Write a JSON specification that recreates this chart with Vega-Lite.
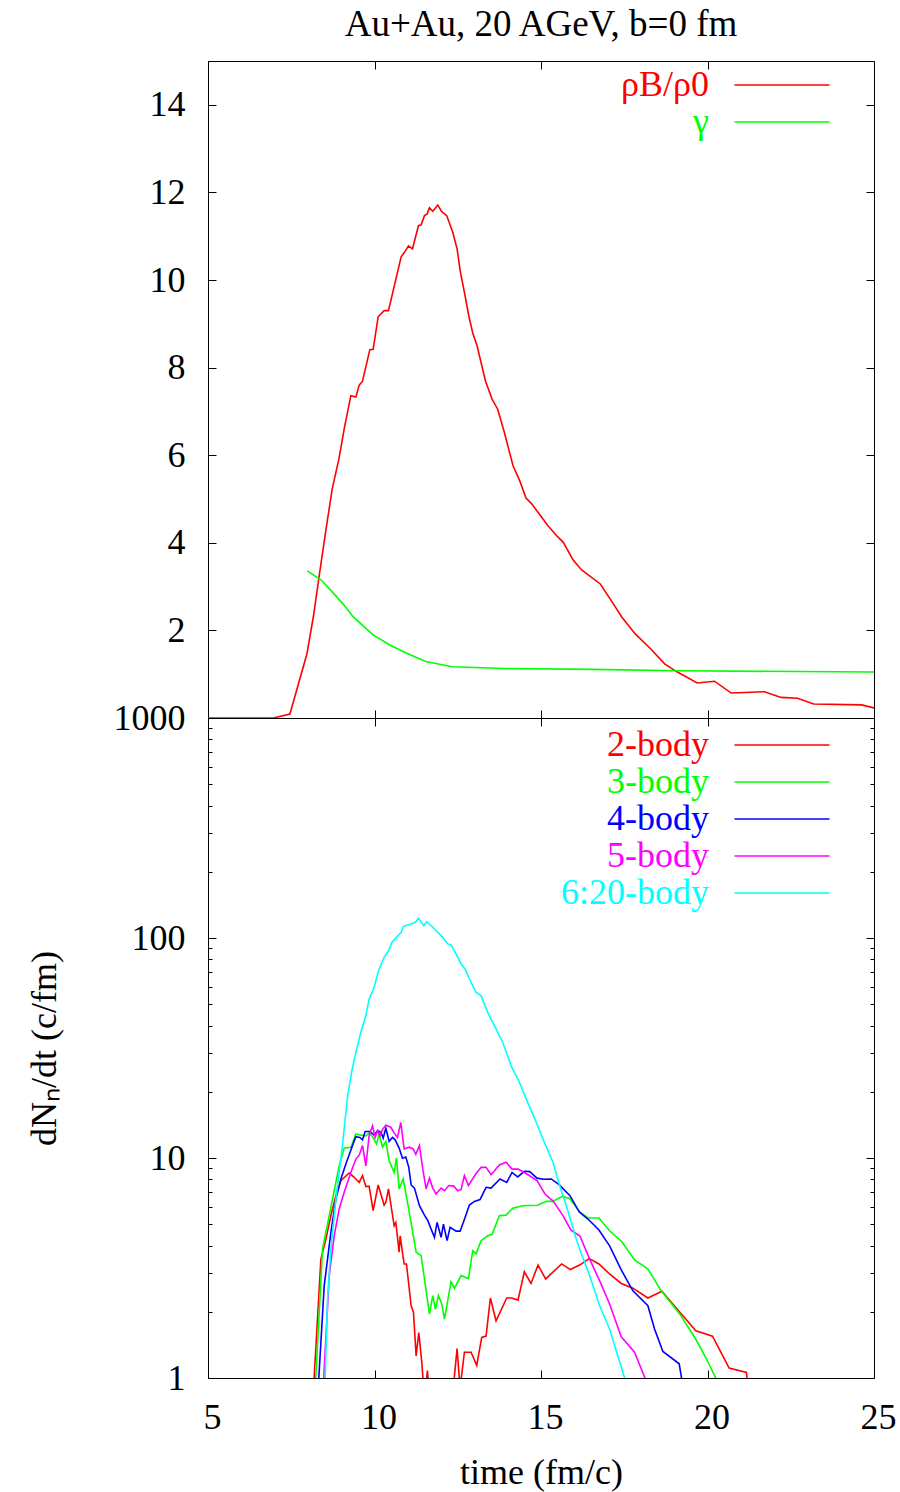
{
  "$schema": "https://vega.github.io/schema/vega-lite/v6.json",
  "padding": {"left": 25, "top": 5, "right": 10, "bottom": 5},
  "background": "#ffffff",
  "config": {
    "font": "Liberation Serif",
    "view": {"stroke": "#000000", "strokeWidth": 1},
    "axis": {
      "labelFont": "Liberation Serif", "labelFontSize": 36, "labelColor": "#000000",
      "titleFont": "Liberation Serif", "titleFontSize": 36, "titleFontWeight": "normal", "titleColor": "#000000",
      "domain": false, "grid": false, "ticks": true, "tickColor": "#000000", "tickWidth": 1, "tickSize": -8,
      "labelOverlap": false, "labelFlush": false, "labelPadding": 31
    },
    "legend": {
      "orient": "top-right", "offset": 6, "padding": 0,
      "symbolType": "M-9,0H1M4.67,0", "symbolSize": 361, "symbolStrokeWidth": 1.6,
      "labelFont": "Liberation Serif", "labelFontSize": 36, "labelAlign": "right", "labelOffset": -129,
      "labelLimit": 0, "rowPadding": 1
    }
  },
  "datasets": {
    "top": [
      {"t": 5.0, "v": 0, "s": "ρB/ρ0"}, {"t": 6.96, "v": 0, "s": "ρB/ρ0"}, {"t": 7.46, "v": 0.09, "s": "ρB/ρ0"},
      {"t": 7.97, "v": 1.46, "s": "ρB/ρ0"}, {"t": 8.17, "v": 2.34, "s": "ρB/ρ0"}, {"t": 8.34, "v": 3.25, "s": "ρB/ρ0"},
      {"t": 8.53, "v": 4.24, "s": "ρB/ρ0"}, {"t": 8.73, "v": 5.23, "s": "ρB/ρ0"}, {"t": 8.93, "v": 5.91, "s": "ρB/ρ0"},
      {"t": 9.10, "v": 6.64, "s": "ρB/ρ0"}, {"t": 9.29, "v": 7.36, "s": "ρB/ρ0"}, {"t": 9.44, "v": 7.33, "s": "ρB/ρ0"},
      {"t": 9.54, "v": 7.60, "s": "ρB/ρ0"}, {"t": 9.64, "v": 7.69, "s": "ρB/ρ0"}, {"t": 9.86, "v": 8.41, "s": "ρB/ρ0"},
      {"t": 9.96, "v": 8.42, "s": "ρB/ρ0"}, {"t": 10.11, "v": 9.16, "s": "ρB/ρ0"}, {"t": 10.29, "v": 9.30, "s": "ρB/ρ0"},
      {"t": 10.42, "v": 9.30, "s": "ρB/ρ0"}, {"t": 10.80, "v": 10.53, "s": "ρB/ρ0"}, {"t": 10.89, "v": 10.62, "s": "ρB/ρ0"},
      {"t": 11.02, "v": 10.78, "s": "ρB/ρ0"}, {"t": 11.14, "v": 10.71, "s": "ρB/ρ0"}, {"t": 11.32, "v": 11.24, "s": "ρB/ρ0"},
      {"t": 11.40, "v": 11.26, "s": "ρB/ρ0"}, {"t": 11.50, "v": 11.47, "s": "ρB/ρ0"}, {"t": 11.58, "v": 11.51, "s": "ρB/ρ0"},
      {"t": 11.65, "v": 11.65, "s": "ρB/ρ0"}, {"t": 11.75, "v": 11.57, "s": "ρB/ρ0"}, {"t": 11.90, "v": 11.71, "s": "ρB/ρ0"},
      {"t": 12.02, "v": 11.56, "s": "ρB/ρ0"}, {"t": 12.17, "v": 11.47, "s": "ρB/ρ0"}, {"t": 12.35, "v": 11.09, "s": "ρB/ρ0"},
      {"t": 12.48, "v": 10.71, "s": "ρB/ρ0"}, {"t": 12.58, "v": 10.18, "s": "ρB/ρ0"}, {"t": 12.72, "v": 9.64, "s": "ρB/ρ0"},
      {"t": 12.83, "v": 9.19, "s": "ρB/ρ0"}, {"t": 12.95, "v": 8.79, "s": "ρB/ρ0"}, {"t": 13.08, "v": 8.50, "s": "ρB/ρ0"},
      {"t": 13.33, "v": 7.70, "s": "ρB/ρ0"}, {"t": 13.53, "v": 7.28, "s": "ρB/ρ0"}, {"t": 13.70, "v": 7.05, "s": "ρB/ρ0"},
      {"t": 13.90, "v": 6.52, "s": "ρB/ρ0"}, {"t": 14.16, "v": 5.76, "s": "ρB/ρ0"}, {"t": 14.36, "v": 5.42, "s": "ρB/ρ0"},
      {"t": 14.55, "v": 5.02, "s": "ρB/ρ0"}, {"t": 14.72, "v": 4.89, "s": "ρB/ρ0"}, {"t": 15.21, "v": 4.39, "s": "ρB/ρ0"},
      {"t": 15.47, "v": 4.16, "s": "ρB/ρ0"}, {"t": 15.67, "v": 4.01, "s": "ρB/ρ0"}, {"t": 15.96, "v": 3.61, "s": "ρB/ρ0"},
      {"t": 16.22, "v": 3.38, "s": "ρB/ρ0"}, {"t": 16.78, "v": 3.06, "s": "ρB/ρ0"}, {"t": 17.11, "v": 2.68, "s": "ρB/ρ0"},
      {"t": 17.43, "v": 2.30, "s": "ρB/ρ0"}, {"t": 17.83, "v": 1.92, "s": "ρB/ρ0"}, {"t": 18.29, "v": 1.58, "s": "ρB/ρ0"},
      {"t": 18.72, "v": 1.23, "s": "ρB/ρ0"}, {"t": 19.07, "v": 1.06, "s": "ρB/ρ0"}, {"t": 19.69, "v": 0.80, "s": "ρB/ρ0"},
      {"t": 20.21, "v": 0.84, "s": "ρB/ρ0"}, {"t": 20.71, "v": 0.57, "s": "ρB/ρ0"}, {"t": 21.71, "v": 0.60, "s": "ρB/ρ0"},
      {"t": 22.21, "v": 0.47, "s": "ρB/ρ0"}, {"t": 22.70, "v": 0.45, "s": "ρB/ρ0"}, {"t": 23.19, "v": 0.32, "s": "ρB/ρ0"},
      {"t": 24.63, "v": 0.30, "s": "ρB/ρ0"}, {"t": 25.0, "v": 0.23, "s": "ρB/ρ0"},
      {"t": 7.98, "v": 3.36, "s": "γ"}, {"t": 8.40, "v": 3.15, "s": "γ"}, {"t": 8.73, "v": 2.88, "s": "γ"},
      {"t": 9.06, "v": 2.60, "s": "γ"}, {"t": 9.35, "v": 2.32, "s": "γ"}, {"t": 9.65, "v": 2.11, "s": "γ"},
      {"t": 9.97, "v": 1.89, "s": "γ"}, {"t": 10.50, "v": 1.65, "s": "γ"}, {"t": 11.02, "v": 1.46, "s": "γ"},
      {"t": 11.54, "v": 1.29, "s": "γ"}, {"t": 12.33, "v": 1.17, "s": "γ"}, {"t": 13.90, "v": 1.13, "s": "γ"},
      {"t": 16.52, "v": 1.11, "s": "γ"}, {"t": 19.14, "v": 1.08, "s": "γ"}, {"t": 22.67, "v": 1.06, "s": "γ"},
      {"t": 25.0, "v": 1.05, "s": "γ"}
    ],
    "bottom": [
      {"t": 8.17, "v": 0.9, "s": "2-body"}, {"t": 8.39, "v": 3.47, "s": "2-body"}, {"t": 8.54, "v": 4.28, "s": "2-body"},
      {"t": 8.69, "v": 5.47, "s": "2-body"}, {"t": 8.84, "v": 6.74, "s": "2-body"}, {"t": 8.99, "v": 7.88, "s": "2-body"},
      {"t": 9.24, "v": 8.55, "s": "2-body"}, {"t": 9.39, "v": 8.17, "s": "2-body"}, {"t": 9.54, "v": 7.75, "s": "2-body"},
      {"t": 9.64, "v": 8.32, "s": "2-body"}, {"t": 9.74, "v": 7.43, "s": "2-body"}, {"t": 9.84, "v": 7.43, "s": "2-body"},
      {"t": 9.96, "v": 5.76, "s": "2-body"}, {"t": 10.11, "v": 7.54, "s": "2-body"}, {"t": 10.29, "v": 6.11, "s": "2-body"},
      {"t": 10.34, "v": 6.29, "s": "2-body"}, {"t": 10.42, "v": 7.23, "s": "2-body"}, {"t": 10.59, "v": 4.92, "s": "2-body"},
      {"t": 10.64, "v": 5.09, "s": "2-body"}, {"t": 10.74, "v": 3.73, "s": "2-body"}, {"t": 10.77, "v": 4.43, "s": "2-body"},
      {"t": 10.89, "v": 3.30, "s": "2-body"}, {"t": 10.96, "v": 3.30, "s": "2-body"}, {"t": 11.10, "v": 2.13, "s": "2-body"},
      {"t": 11.17, "v": 1.99, "s": "2-body"}, {"t": 11.25, "v": 1.26, "s": "2-body"}, {"t": 11.33, "v": 1.61, "s": "2-body"},
      {"t": 11.42, "v": 1.18, "s": "2-body"}, {"t": 11.50, "v": 0.8, "s": "2-body"}, {"t": 11.59, "v": 1.08, "s": "2-body"},
      {"t": 11.65, "v": 0.8, "s": "2-body"}, {"t": 12.0, "v": 0.7, "s": "2-body"}, {"t": 12.35, "v": 0.85, "s": "2-body"},
      {"t": 12.48, "v": 1.36, "s": "2-body"}, {"t": 12.57, "v": 0.9, "s": "2-body"}, {"t": 12.70, "v": 1.31, "s": "2-body"},
      {"t": 12.90, "v": 1.31, "s": "2-body"}, {"t": 13.07, "v": 1.14, "s": "2-body"}, {"t": 13.22, "v": 1.53, "s": "2-body"},
      {"t": 13.35, "v": 1.55, "s": "2-body"}, {"t": 13.48, "v": 2.31, "s": "2-body"}, {"t": 13.65, "v": 1.82, "s": "2-body"},
      {"t": 13.97, "v": 2.31, "s": "2-body"}, {"t": 14.12, "v": 2.31, "s": "2-body"}, {"t": 14.31, "v": 2.26, "s": "2-body"},
      {"t": 14.50, "v": 3.04, "s": "2-body"}, {"t": 14.70, "v": 2.69, "s": "2-body"}, {"t": 14.91, "v": 3.26, "s": "2-body"},
      {"t": 15.14, "v": 2.82, "s": "2-body"}, {"t": 15.62, "v": 3.30, "s": "2-body"}, {"t": 15.88, "v": 3.11, "s": "2-body"},
      {"t": 16.16, "v": 3.26, "s": "2-body"}, {"t": 16.45, "v": 3.49, "s": "2-body"}, {"t": 16.74, "v": 3.30, "s": "2-body"},
      {"t": 17.06, "v": 2.97, "s": "2-body"}, {"t": 17.41, "v": 2.69, "s": "2-body"}, {"t": 17.76, "v": 2.56, "s": "2-body"},
      {"t": 18.21, "v": 2.31, "s": "2-body"}, {"t": 18.63, "v": 2.48, "s": "2-body"}, {"t": 19.17, "v": 1.99, "s": "2-body"},
      {"t": 19.65, "v": 1.64, "s": "2-body"}, {"t": 20.15, "v": 1.55, "s": "2-body"}, {"t": 20.65, "v": 1.11, "s": "2-body"},
      {"t": 21.17, "v": 1.06, "s": "2-body"}, {"t": 21.25, "v": 0.8, "s": "2-body"},

      {"t": 8.22, "v": 0.9, "s": "3-body"}, {"t": 8.44, "v": 3.86, "s": "3-body"}, {"t": 8.64, "v": 5.47, "s": "3-body"},
      {"t": 8.74, "v": 6.51, "s": "3-body"}, {"t": 8.94, "v": 9.23, "s": "3-body"}, {"t": 9.09, "v": 11.07, "s": "3-body"},
      {"t": 9.29, "v": 11.2, "s": "3-body"}, {"t": 9.44, "v": 12.85, "s": "3-body"}, {"t": 9.59, "v": 12.7, "s": "3-body"},
      {"t": 9.74, "v": 12.6, "s": "3-body"}, {"t": 9.84, "v": 13.0, "s": "3-body"}, {"t": 9.94, "v": 12.5, "s": "3-body"},
      {"t": 10.06, "v": 11.58, "s": "3-body"}, {"t": 10.14, "v": 12.85, "s": "3-body"}, {"t": 10.24, "v": 11.2, "s": "3-body"},
      {"t": 10.34, "v": 11.9, "s": "3-body"}, {"t": 10.44, "v": 9.72, "s": "3-body"}, {"t": 10.59, "v": 8.61, "s": "3-body"},
      {"t": 10.66, "v": 10.0, "s": "3-body"}, {"t": 10.74, "v": 7.23, "s": "3-body"}, {"t": 10.86, "v": 8.03, "s": "3-body"},
      {"t": 10.99, "v": 6.29, "s": "3-body"}, {"t": 11.13, "v": 4.76, "s": "3-body"}, {"t": 11.25, "v": 3.73, "s": "3-body"},
      {"t": 11.40, "v": 3.60, "s": "3-body"}, {"t": 11.50, "v": 2.82, "s": "3-body"}, {"t": 11.65, "v": 1.95, "s": "3-body"},
      {"t": 11.75, "v": 2.37, "s": "3-body"}, {"t": 11.83, "v": 2.05, "s": "3-body"}, {"t": 11.92, "v": 2.37, "s": "3-body"},
      {"t": 12.02, "v": 2.17, "s": "3-body"}, {"t": 12.10, "v": 1.85, "s": "3-body"}, {"t": 12.30, "v": 2.74, "s": "3-body"},
      {"t": 12.40, "v": 2.56, "s": "3-body"}, {"t": 12.60, "v": 2.92, "s": "3-body"}, {"t": 12.82, "v": 2.83, "s": "3-body"},
      {"t": 12.95, "v": 3.79, "s": "3-body"}, {"t": 13.05, "v": 3.67, "s": "3-body"}, {"t": 13.20, "v": 4.21, "s": "3-body"},
      {"t": 13.40, "v": 4.43, "s": "3-body"}, {"t": 13.53, "v": 4.50, "s": "3-body"}, {"t": 13.75, "v": 5.47, "s": "3-body"},
      {"t": 13.95, "v": 5.5, "s": "3-body"}, {"t": 14.15, "v": 5.91, "s": "3-body"}, {"t": 14.45, "v": 6.07, "s": "3-body"},
      {"t": 14.90, "v": 6.10, "s": "3-body"}, {"t": 15.16, "v": 6.35, "s": "3-body"}, {"t": 15.35, "v": 6.35, "s": "3-body"},
      {"t": 15.64, "v": 6.7, "s": "3-body"}, {"t": 15.86, "v": 6.55, "s": "3-body"}, {"t": 16.16, "v": 5.70, "s": "3-body"},
      {"t": 16.41, "v": 5.34, "s": "3-body"}, {"t": 16.74, "v": 5.34, "s": "3-body"}, {"t": 17.06, "v": 4.67, "s": "3-body"},
      {"t": 17.44, "v": 4.14, "s": "3-body"}, {"t": 17.81, "v": 3.44, "s": "3-body"}, {"t": 18.21, "v": 3.13, "s": "3-body"},
      {"t": 18.61, "v": 2.49, "s": "3-body"}, {"t": 19.17, "v": 1.95, "s": "3-body"}, {"t": 19.65, "v": 1.50, "s": "3-body"},
      {"t": 19.97, "v": 1.22, "s": "3-body"}, {"t": 20.32, "v": 0.95, "s": "3-body"},

      {"t": 8.31, "v": 0.9, "s": "4-body"}, {"t": 8.49, "v": 2.63, "s": "4-body"}, {"t": 8.69, "v": 4.59, "s": "4-body"},
      {"t": 8.84, "v": 6.51, "s": "4-body"}, {"t": 8.99, "v": 8.03, "s": "4-body"}, {"t": 9.14, "v": 9.39, "s": "4-body"},
      {"t": 9.34, "v": 11.4, "s": "4-body"}, {"t": 9.44, "v": 12.5, "s": "4-body"}, {"t": 9.56, "v": 12.4, "s": "4-body"},
      {"t": 9.64, "v": 12.1, "s": "4-body"}, {"t": 9.72, "v": 13.2, "s": "4-body"}, {"t": 9.86, "v": 13.2, "s": "4-body"},
      {"t": 9.99, "v": 12.7, "s": "4-body"}, {"t": 10.09, "v": 13.3, "s": "4-body"}, {"t": 10.19, "v": 13.1, "s": "4-body"},
      {"t": 10.26, "v": 12.3, "s": "4-body"}, {"t": 10.34, "v": 13.65, "s": "4-body"}, {"t": 10.44, "v": 11.9, "s": "4-body"},
      {"t": 10.54, "v": 12.4, "s": "4-body"}, {"t": 10.62, "v": 12.1, "s": "4-body"}, {"t": 10.74, "v": 11.1, "s": "4-body"},
      {"t": 10.84, "v": 9.97, "s": "4-body"}, {"t": 10.94, "v": 10.1, "s": "4-body"}, {"t": 11.03, "v": 9.07, "s": "4-body"},
      {"t": 11.10, "v": 7.54, "s": "4-body"}, {"t": 11.20, "v": 7.3, "s": "4-body"}, {"t": 11.35, "v": 6.07, "s": "4-body"},
      {"t": 11.50, "v": 5.5, "s": "4-body"}, {"t": 11.60, "v": 5.19, "s": "4-body"}, {"t": 11.80, "v": 4.36, "s": "4-body"},
      {"t": 11.88, "v": 5.1, "s": "4-body"}, {"t": 12.00, "v": 4.36, "s": "4-body"}, {"t": 12.07, "v": 5.0, "s": "4-body"},
      {"t": 12.18, "v": 4.21, "s": "4-body"}, {"t": 12.27, "v": 4.84, "s": "4-body"}, {"t": 12.45, "v": 4.65, "s": "4-body"},
      {"t": 12.57, "v": 4.65, "s": "4-body"}, {"t": 12.67, "v": 5.1, "s": "4-body"}, {"t": 12.85, "v": 6.11, "s": "4-body"},
      {"t": 13.00, "v": 6.35, "s": "4-body"}, {"t": 13.17, "v": 6.47, "s": "4-body"}, {"t": 13.35, "v": 7.36, "s": "4-body"},
      {"t": 13.50, "v": 7.3, "s": "4-body"}, {"t": 13.77, "v": 8.03, "s": "4-body"}, {"t": 13.97, "v": 7.75, "s": "4-body"},
      {"t": 14.13, "v": 8.6, "s": "4-body"}, {"t": 14.30, "v": 8.2, "s": "4-body"}, {"t": 14.50, "v": 8.7, "s": "4-body"},
      {"t": 14.66, "v": 8.67, "s": "4-body"}, {"t": 14.88, "v": 8.1, "s": "4-body"}, {"t": 15.08, "v": 8.0, "s": "4-body"},
      {"t": 15.31, "v": 8.03, "s": "4-body"}, {"t": 15.55, "v": 7.55, "s": "4-body"}, {"t": 15.87, "v": 6.74, "s": "4-body"},
      {"t": 16.15, "v": 5.68, "s": "4-body"}, {"t": 16.41, "v": 5.28, "s": "4-body"}, {"t": 16.74, "v": 4.71, "s": "4-body"},
      {"t": 17.06, "v": 3.99, "s": "4-body"}, {"t": 17.41, "v": 3.10, "s": "4-body"}, {"t": 17.76, "v": 2.49, "s": "4-body"},
      {"t": 18.21, "v": 2.13, "s": "4-body"}, {"t": 18.41, "v": 1.67, "s": "4-body"}, {"t": 18.66, "v": 1.32, "s": "4-body"},
      {"t": 19.15, "v": 1.16, "s": "4-body"}, {"t": 19.27, "v": 0.9, "s": "4-body"},

      {"t": 8.46, "v": 0.9, "s": "5-body"}, {"t": 8.64, "v": 2.92, "s": "5-body"}, {"t": 8.79, "v": 4.43, "s": "5-body"},
      {"t": 8.94, "v": 5.87, "s": "5-body"}, {"t": 9.09, "v": 6.98, "s": "5-body"}, {"t": 9.29, "v": 8.6, "s": "5-body"},
      {"t": 9.44, "v": 9.89, "s": "5-body"}, {"t": 9.54, "v": 10.3, "s": "5-body"}, {"t": 9.64, "v": 11.4, "s": "5-body"},
      {"t": 9.74, "v": 9.2, "s": "5-body"}, {"t": 9.84, "v": 12.7, "s": "5-body"}, {"t": 9.94, "v": 14.0, "s": "5-body"},
      {"t": 10.02, "v": 12.4, "s": "5-body"}, {"t": 10.09, "v": 13.3, "s": "5-body"}, {"t": 10.16, "v": 12.6, "s": "5-body"},
      {"t": 10.24, "v": 13.5, "s": "5-body"}, {"t": 10.34, "v": 14.1, "s": "5-body"}, {"t": 10.49, "v": 13.8, "s": "5-body"},
      {"t": 10.59, "v": 13.0, "s": "5-body"}, {"t": 10.69, "v": 12.4, "s": "5-body"}, {"t": 10.79, "v": 14.5, "s": "5-body"},
      {"t": 10.89, "v": 11.0, "s": "5-body"}, {"t": 11.04, "v": 11.2, "s": "5-body"}, {"t": 11.16, "v": 11.0, "s": "5-body"},
      {"t": 11.24, "v": 10.4, "s": "5-body"}, {"t": 11.35, "v": 11.4, "s": "5-body"}, {"t": 11.45, "v": 8.91, "s": "5-body"},
      {"t": 11.55, "v": 7.23, "s": "5-body"}, {"t": 11.65, "v": 8.1, "s": "5-body"}, {"t": 11.75, "v": 7.3, "s": "5-body"},
      {"t": 11.85, "v": 6.86, "s": "5-body"}, {"t": 12.00, "v": 7.3, "s": "5-body"}, {"t": 12.10, "v": 7.1, "s": "5-body"},
      {"t": 12.23, "v": 7.5, "s": "5-body"}, {"t": 12.38, "v": 7.45, "s": "5-body"}, {"t": 12.50, "v": 7.1, "s": "5-body"},
      {"t": 12.60, "v": 7.2, "s": "5-body"}, {"t": 12.70, "v": 8.31, "s": "5-body"}, {"t": 12.82, "v": 7.5, "s": "5-body"},
      {"t": 13.05, "v": 8.5, "s": "5-body"}, {"t": 13.20, "v": 9.07, "s": "5-body"}, {"t": 13.35, "v": 9.07, "s": "5-body"},
      {"t": 13.50, "v": 8.4, "s": "5-body"}, {"t": 13.75, "v": 9.3, "s": "5-body"}, {"t": 13.95, "v": 9.56, "s": "5-body"},
      {"t": 14.13, "v": 8.9, "s": "5-body"}, {"t": 14.31, "v": 8.9, "s": "5-body"}, {"t": 14.55, "v": 8.5, "s": "5-body"},
      {"t": 14.88, "v": 7.9, "s": "5-body"}, {"t": 15.12, "v": 6.86, "s": "5-body"}, {"t": 15.37, "v": 6.35, "s": "5-body"},
      {"t": 15.66, "v": 5.47, "s": "5-body"}, {"t": 15.90, "v": 4.7, "s": "5-body"}, {"t": 16.17, "v": 4.42, "s": "5-body"},
      {"t": 16.46, "v": 3.47, "s": "5-body"}, {"t": 16.76, "v": 2.77, "s": "5-body"}, {"t": 17.06, "v": 2.17, "s": "5-body"},
      {"t": 17.41, "v": 1.54, "s": "5-body"}, {"t": 17.81, "v": 1.31, "s": "5-body"}, {"t": 18.18, "v": 0.95, "s": "5-body"},

      {"t": 8.50, "v": 0.9, "s": "6:20-body"}, {"t": 8.52, "v": 1.02, "s": "6:20-body"}, {"t": 8.59, "v": 2.29, "s": "6:20-body"},
      {"t": 8.69, "v": 3.86, "s": "6:20-body"}, {"t": 8.84, "v": 6.5, "s": "6:20-body"}, {"t": 9.04, "v": 11.5, "s": "6:20-body"},
      {"t": 9.19, "v": 19.0, "s": "6:20-body"}, {"t": 9.32, "v": 24.9, "s": "6:20-body"}, {"t": 9.44, "v": 30.2, "s": "6:20-body"},
      {"t": 9.59, "v": 37.3, "s": "6:20-body"}, {"t": 9.74, "v": 44.4, "s": "6:20-body"}, {"t": 9.84, "v": 52.8, "s": "6:20-body"},
      {"t": 9.99, "v": 59.7, "s": "6:20-body"}, {"t": 10.12, "v": 71, "s": "6:20-body"}, {"t": 10.29, "v": 81.7, "s": "6:20-body"},
      {"t": 10.44, "v": 88.4, "s": "6:20-body"}, {"t": 10.52, "v": 95.5, "s": "6:20-body"}, {"t": 10.66, "v": 100.7, "s": "6:20-body"},
      {"t": 10.80, "v": 106, "s": "6:20-body"}, {"t": 10.87, "v": 113, "s": "6:20-body"}, {"t": 11.10, "v": 115.8, "s": "6:20-body"},
      {"t": 11.23, "v": 117.9, "s": "6:20-body"}, {"t": 11.32, "v": 123, "s": "6:20-body"}, {"t": 11.48, "v": 113.7, "s": "6:20-body"},
      {"t": 11.57, "v": 118.6, "s": "6:20-body"}, {"t": 11.75, "v": 111.9, "s": "6:20-body"}, {"t": 11.90, "v": 106, "s": "6:20-body"},
      {"t": 12.05, "v": 100.7, "s": "6:20-body"}, {"t": 12.20, "v": 94, "s": "6:20-body"}, {"t": 12.30, "v": 93, "s": "6:20-body"},
      {"t": 12.45, "v": 84.6, "s": "6:20-body"}, {"t": 12.60, "v": 76.2, "s": "6:20-body"}, {"t": 12.72, "v": 72.3, "s": "6:20-body"},
      {"t": 12.85, "v": 65.1, "s": "6:20-body"}, {"t": 13.05, "v": 56.6, "s": "6:20-body"}, {"t": 13.20, "v": 54.7, "s": "6:20-body"},
      {"t": 13.40, "v": 45.9, "s": "6:20-body"}, {"t": 13.65, "v": 38.6, "s": "6:20-body"}, {"t": 13.85, "v": 33.6, "s": "6:20-body"},
      {"t": 14.10, "v": 26.3, "s": "6:20-body"}, {"t": 14.35, "v": 22.1, "s": "6:20-body"}, {"t": 14.60, "v": 17.9, "s": "6:20-body"},
      {"t": 14.86, "v": 14.5, "s": "6:20-body"}, {"t": 15.10, "v": 11.8, "s": "6:20-body"}, {"t": 15.36, "v": 9.56, "s": "6:20-body"},
      {"t": 15.56, "v": 7.48, "s": "6:20-body"}, {"t": 15.76, "v": 6.07, "s": "6:20-body"}, {"t": 16.06, "v": 4.28, "s": "6:20-body"},
      {"t": 16.16, "v": 3.86, "s": "6:20-body"}, {"t": 16.46, "v": 2.92, "s": "6:20-body"}, {"t": 16.76, "v": 2.13, "s": "6:20-body"},
      {"t": 17.06, "v": 1.67, "s": "6:20-body"}, {"t": 17.51, "v": 1.0, "s": "6:20-body"}, {"t": 17.55, "v": 0.9, "s": "6:20-body"}
    ]
  },
  "vconcat": [
    {
      "width": 666,
      "height": 657,
      "title": {"text": "Au+Au, 20 AGeV, b=0 fm", "font": "Liberation Serif", "fontSize": 37, "fontWeight": "normal", "color": "#000000", "anchor": "middle", "offset": 17},
      "data": {"name": "top"},
      "layer": [
        {
          "mark": {"type": "line", "strokeWidth": 1.6, "clip": true},
          "encoding": {
            "x": {"field": "t", "type": "quantitative", "scale": {"domain": [5, 25], "nice": false, "zero": false},
                  "axis": {"orient": "bottom", "values": [5, 10, 15, 20, 25], "labels": false, "title": null}},
            "y": {"field": "v", "type": "quantitative", "scale": {"domain": [0, 15], "nice": false},
                  "axis": {"orient": "left", "values": [2, 4, 6, 8, 10, 12, 14], "title": null}},
            "color": {"field": "s", "type": "nominal",
                      "scale": {"domain": ["ρB/ρ0", "γ"], "range": ["#ff0000", "#00ff00"]},
                      "legend": {"title": null,
                                 "encode": {"labels": {"update": {"fill": {"signal": "datum.value === 'γ' ? '#00ff00' : '#ff0000'"}}}}}}
          }
        },
        {
          "mark": {"type": "line", "opacity": 0},
          "encoding": {
            "x": {"field": "t", "type": "quantitative", "scale": {"domain": [5, 25], "nice": false, "zero": false},
                  "axis": {"orient": "top", "values": [5, 10, 15, 20, 25], "labels": false, "title": null}},
            "y": {"field": "v", "type": "quantitative", "scale": {"domain": [0, 15], "nice": false},
                  "axis": {"orient": "right", "values": [2, 4, 6, 8, 10, 12, 14], "labels": false, "title": null}},
            "detail": {"field": "s", "type": "nominal"}
          }
        }
      ],
      "resolve": {"axis": {"x": "independent", "y": "independent"}}
    },
    {
      "width": 666,
      "height": 660,
      "data": {"name": "bottom"},
      "layer": [
        {
          "mark": {"type": "line", "strokeWidth": 1.6, "clip": true},
          "encoding": {
            "x": {"field": "t", "type": "quantitative", "scale": {"domain": [5, 25], "nice": false, "zero": false},
                  "axis": {"orient": "bottom", "values": [5, 10, 15, 20, 25], "title": "time (fm/c)", "labelPadding": 30, "labelOffset": 4, "titlePadding": 20}},
            "y": {"field": "v", "type": "quantitative", "scale": {"type": "log", "domain": [1, 1000], "nice": false},
                  "axis": {"orient": "left", "title": "dNₙ/dt (c/fm)", "titlePadding": 50, "format": "d",
                           "values": [1, 2, 3, 4, 5, 6, 7, 8, 9, 10, 20, 30, 40, 50, 60, 70, 80, 90, 100, 200, 300, 400, 500, 600, 700, 800, 900, 1000],
                           "labelExpr": "datum.value === 1 || datum.value === 10 || datum.value === 100 || datum.value === 1000 ? datum.label : ''",
                           "tickSize": {"condition": {"test": "datum.value === 1 || datum.value === 10 || datum.value === 100 || datum.value === 1000", "value": -8}, "value": -4}}},
            "color": {"field": "s", "type": "nominal",
                      "scale": {"domain": ["2-body", "3-body", "4-body", "5-body", "6:20-body"], "range": ["#ff0000", "#00ff00", "#0000ff", "#ff00ff", "#00ffff"]},
                      "legend": {"title": null, "offset": 9, "symbolType": "M-9,0H1M4.35,0",
                                 "encode": {"labels": {"update": {"fill": {"signal": "datum.value === '2-body' ? '#ff0000' : datum.value === '3-body' ? '#00ff00' : datum.value === '4-body' ? '#0000ff' : datum.value === '5-body' ? '#ff00ff' : '#00ffff'"}}}}}}
          }
        },
        {
          "mark": {"type": "line", "opacity": 0, "clip": true},
          "encoding": {
            "x": {"field": "t", "type": "quantitative", "scale": {"domain": [5, 25], "nice": false, "zero": false},
                  "axis": {"orient": "top", "values": [5, 10, 15, 20, 25], "labels": false, "title": null}},
            "y": {"field": "v", "type": "quantitative", "scale": {"type": "log", "domain": [1, 1000], "nice": false},
                  "axis": {"orient": "right", "labels": false, "title": null,
                           "values": [1, 2, 3, 4, 5, 6, 7, 8, 9, 10, 20, 30, 40, 50, 60, 70, 80, 90, 100, 200, 300, 400, 500, 600, 700, 800, 900, 1000],
                           "tickSize": {"condition": {"test": "datum.value === 1 || datum.value === 10 || datum.value === 100 || datum.value === 1000", "value": -8}, "value": -4}}},
            "detail": {"field": "s", "type": "nominal"}
          }
        }
      ],
      "resolve": {"axis": {"x": "independent", "y": "independent"}}
    }
  ],
  "spacing": 0,
  "bounds": "flush",
  "resolve": {"scale": {"color": "independent", "y": "independent"}, "legend": {"color": "independent"}}
}
